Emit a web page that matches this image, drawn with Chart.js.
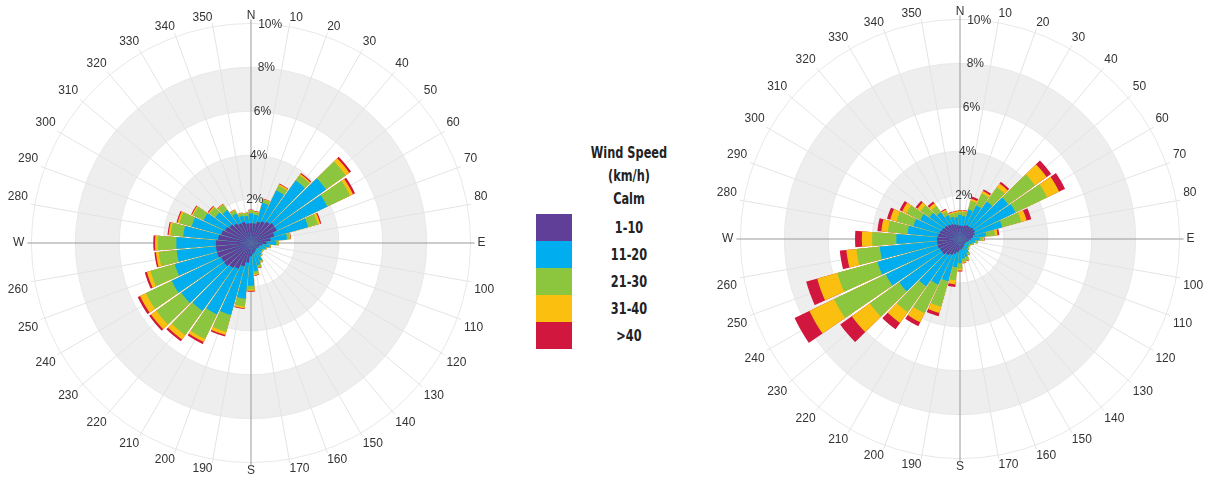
<!DOCTYPE html>
<html>
<head>
<meta charset="utf-8">
<script src="https://cdn.jsdelivr.net/npm/chart.js@4.4.1/dist/chart.umd.min.js"></script>
<style>
html, body { margin: 0; padding: 0; background: #fff; overflow: hidden; width: 1212px; height: 480px; }
.rose { position: absolute; width: 502px; height: 486px; }
#legend { position: absolute; left: 0; top: 0; font-family: "Liberation Sans Narrow", "DejaVu Sans Condensed", sans-serif; font-weight: bold; font-size: 15px; color: #222; }
#legend div { position: absolute; }
#legend .txt { transform: scaleX(0.84); }
</style>
</head>
<body>
<div class="rose" style="left:0px; top:0px;"><canvas id="roseA"></canvas></div>
<div class="rose" style="left:709px; top:-4px;"><canvas id="roseB"></canvas></div>
<div id="legend"></div>
<script>
const dirLabels = ['N','10','20','30','40','50','60','70','80','E','100','110','120','130','140','150','160','170',
                   'S','190','200','210','220','230','240','250','260','W','280','290','300','310','320','330','340','350'];
const speedClasses = ['1-10', '11-20', '21-30', '31-40', '>40'];
const speedColors = ['#5f3f98', '#00aeef', '#8cc63f', '#fbbf10', '#d2173f'];
const tickValues = [2, 4, 6, 8, 10];

// cumulative frequency (%) up to each speed class - left rose
const leftTo10  = [0.9,0.9,1.0,1.1,1.2,1.3,1.3,1.1,0.9,0.7,0.5,0.4,0.4,0.35,0.35,0.4,0.45,0.5,0.6,0.9,1.1,1.3,1.4,1.5,1.5,1.6,1.6,1.6,1.5,1.4,1.3,1.2,1.1,1.0,1.0,0.9];
const leftTo20  = [1.35,1.3,1.9,2.65,3.5,4.2,3.85,2.7,1.65,1.15,0.85,0.7,0.6,0.6,0.7,0.9,1.05,1.3,1.95,2.55,3.4,3.6,3.8,3.9,4.0,3.6,3.4,3.4,3.1,2.8,2.4,2.0,1.85,1.5,1.3,1.25];
const leftTo30  = [1.48,1.42,2.05,2.9,3.8,5.3,5.0,3.15,1.78,1.25,0.9,0.75,0.65,0.65,0.75,0.97,1.15,1.42,2.12,2.9,4.2,4.85,5.15,5.3,5.3,4.75,4.22,4.25,3.68,3.38,2.92,2.32,2.15,1.65,1.42,1.37];
const leftTo40  = [1.5,1.45,2.08,2.97,3.87,5.5,5.15,3.27,1.82,1.27,0.91,0.76,0.66,0.66,0.76,0.99,1.18,1.47,2.18,2.98,4.35,5.0,5.4,5.6,5.6,4.92,4.35,4.37,3.77,3.47,2.98,2.38,2.18,1.68,1.44,1.39];
const leftTotal = [1.52,1.47,2.1,3.0,3.92,5.6,5.25,3.32,1.84,1.28,0.92,0.76,0.66,0.66,0.76,1.0,1.2,1.5,2.22,3.02,4.42,5.1,5.5,5.7,5.72,5.02,4.42,4.45,3.82,3.52,3.02,2.42,2.2,1.7,1.45,1.4];

// cumulative frequency (%) up to each speed class - right rose
const rightTo10  = [0.6,0.6,0.65,0.7,0.7,0.75,0.75,0.7,0.6,0.5,0.4,0.35,0.3,0.3,0.3,0.35,0.4,0.45,0.5,0.6,0.7,0.8,0.9,1.0,1.0,1.05,1.05,1.05,1.0,0.95,0.9,0.85,0.8,0.75,0.7,0.65];
const rightTo20  = [1.1,1.05,1.4,1.7,2.1,2.7,2.8,2.0,1.2,0.9,0.7,0.6,0.5,0.5,0.55,0.7,0.85,0.9,1.1,1.3,2.0,2.3,2.65,3.4,3.74,3.9,3.67,2.9,2.4,2.2,2.0,1.7,1.5,1.2,1.05,1.0];
const rightTo30  = [1.25,1.25,1.8,2.3,2.9,4.2,4.4,2.9,1.6,1.05,0.8,0.65,0.55,0.55,0.6,0.8,1.0,1.05,1.35,1.9,3.2,3.75,4.1,5.05,6.35,5.8,4.74,4.0,3.3,3.0,2.7,2.2,1.85,1.4,1.2,1.2];
const rightTo40  = [1.3,1.3,1.9,2.42,3.1,4.85,5.0,3.15,1.72,1.1,0.82,0.66,0.56,0.56,0.61,0.82,1.03,1.1,1.44,2.08,3.5,4.2,4.7,6.05,7.6,6.75,5.2,4.47,3.6,3.3,2.92,2.38,2.0,1.48,1.26,1.27];
const rightTotal = [1.32,1.33,2.0,2.5,3.2,5.1,5.3,3.37,1.8,1.12,0.83,0.67,0.56,0.56,0.62,0.83,1.05,1.12,1.48,2.2,3.65,4.4,5.05,6.7,8.35,7.27,5.5,4.78,3.78,3.45,3.05,2.48,2.1,1.53,1.3,1.3];

const labelFont = '"Liberation Sans", Arial, sans-serif';

const rosePlugin = {
    id: 'rose',
    beforeDraw(chart) {
        // alternating grey rings
        const s = chart.scales.r, ctx = chart.ctx;
        ctx.save();
        ctx.fillStyle = '#eeeeee';
        [[2, 4], [6, 8]].forEach(([a, b]) => {
            ctx.beginPath();
            ctx.arc(s.xCenter, s.yCenter, s.getDistanceFromCenterForValue(b), 0, Math.PI * 2);
            ctx.arc(s.xCenter, s.yCenter, s.getDistanceFromCenterForValue(a), 0, Math.PI * 2, true);
            ctx.fill();
        });
        ctx.restore();
    },
    beforeDatasetsDraw(chart) {
        const s = chart.scales.r, ctx = chart.ctx;
        const n = dirLabels.length;
        const step = Math.PI * 2 / n;
        // spokes through the middle of each sector
        ctx.save();
        ctx.lineWidth = 1;
        for (let i = 0; i < n; i++) {
            const p = s.getPointPosition(i, s.drawingArea + 4, step / 2);
            ctx.strokeStyle = i % 9 === 0 ? '#9a9a9a' : '#e4e4e4';
            ctx.beginPath();
            ctx.moveTo(s.xCenter, s.yCenter);
            ctx.lineTo(p.x, p.y);
            ctx.stroke();
        }
        ctx.restore();
        // small angular gap between sectors
        const gap = step * 0.05;
        ctx.save();
        ctx.beginPath();
        for (let i = 0; i < n; i++) {
            const a0 = s.getIndexAngle(i) - Math.PI / 2 + gap;
            ctx.moveTo(s.xCenter, s.yCenter);
            ctx.arc(s.xCenter, s.yCenter, s.drawingArea + 20, a0, a0 + step - 2 * gap);
            ctx.closePath();
        }
        ctx.clip();
    },
    afterDatasetsDraw(chart) {
        chart.ctx.restore();
    },
    afterDraw(chart) {
        const s = chart.scales.r, ctx = chart.ctx;
        const ang = 5 * Math.PI / 180;
        ctx.save();
        ctx.font = '12px ' + labelFont;
        ctx.fillStyle = '#333';
        ctx.textAlign = 'center';
        ctx.textBaseline = 'middle';
        tickValues.forEach(v => {
            const r = s.getDistanceFromCenterForValue(v);
            ctx.fillText(v + '%', s.xCenter + r * Math.sin(ang), s.yCenter - r * Math.cos(ang));
        });
        ctx.restore();
    }
};

function makeRose(id, series) {
    new Chart(document.getElementById(id), {
        type: 'polarArea',
        data: {
            labels: dirLabels,
            datasets: series.map((data, k) => ({
                label: speedClasses[k],
                data: data,
                backgroundColor: speedColors[k],
                borderWidth: 0
            }))
        },
        options: {
            responsive: true,
            maintainAspectRatio: false,
            animation: false,
            layout: { padding: { top: 8, bottom: 8 } },
            plugins: {
                legend: { display: false },
                tooltip: { enabled: false }
            },
            scales: {
                r: {
                    min: 0,
                    max: 10,
                    startAngle: -5,
                    ticks: { stepSize: 2, display: false },
                    grid: { circular: true, color: '#e8e8e8' },
                    angleLines: { display: false },
                    pointLabels: {
                        display: true,
                        centerPointLabels: true,
                        color: '#333',
                        font: { family: labelFont, size: 12 },
                        padding: c => Math.round(1 + 6 * Math.abs(Math.sin(c.index * Math.PI / 18)))
                    }
                }
            }
        },
        plugins: [rosePlugin]
    });
}

makeRose('roseA', [leftTo10, leftTo20, leftTo30, leftTo40, leftTotal]);
makeRose('roseB', [rightTo10, rightTo20, rightTo30, rightTo40, rightTotal]);

// legend
const legend = document.getElementById('legend');
const textX = 629;
function addText(txt, cy) {
    const d = document.createElement('div');
    d.className = 'txt';
    d.textContent = txt;
    d.style.left = (textX - 60) + 'px';
    d.style.width = '120px';
    d.style.textAlign = 'center';
    d.style.top = (cy - 10) + 'px';
    d.style.lineHeight = '20px';
    legend.appendChild(d);
}
addText('Wind Speed', 153);
addText('(km/h)', 176);
addText('Calm', 199);
speedClasses.forEach((name, k) => {
    const top = 214 + k * 27;
    const box = document.createElement('div');
    box.style.left = '536px';
    box.style.top = top + 'px';
    box.style.width = '36px';
    box.style.height = '27px';
    box.style.background = speedColors[k];
    legend.appendChild(box);
    addText(name, top + 13.5);
});
</script>
</body>
</html>
